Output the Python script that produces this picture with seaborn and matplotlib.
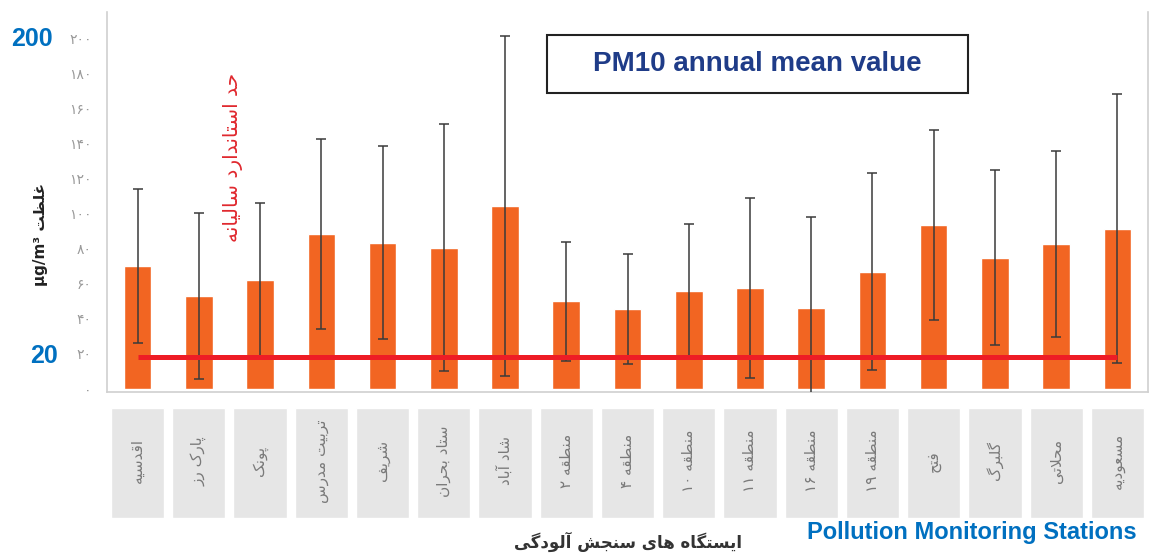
import matplotlib
matplotlib.use("Agg")
import matplotlib.pyplot as plt
from matplotlib.patches import Rectangle
import seaborn as sns
import pandas as pd

# station names (logical Persian order)
stations = ["اقدسیه", "پارک رز", "پونک", "تربیت مدرس", "شریف", "ستاد بحران", "شاد آباد",
            "منطقه ۲", "منطقه ۴", "منطقه ۱۰", "منطقه ۱۱", "منطقه ۱۶", "منطقه ۱۹",
            "فتح", "گلبرگ", "محلاتی", "مسعودیه"]
means = [70, 53, 62, 88.5, 83.5, 80.5, 104.5, 50, 45.5, 56, 57.5, 46, 67, 93.5, 75, 82.5, 91.5]
sds = [44, 47.5, 44, 54, 55, 70.5, 97, 34, 31.5, 38, 51.5, 52, 56, 54, 50, 53, 76.5]
standard = 18
ytick_vals = [0, 20, 40, 60, 80, 100, 120, 140, 160, 180, 200]
ytick_text = ["۰", "۲۰", "۴۰", "۶۰", "۸۰", "۱۰۰", "۱۲۰", "۱۴۰", "۱۶۰", "۱۸۰", "۲۰۰"]

# minimal Persian shaping, matplotlib does no joining / bidi by itself
FORMS = {
    'ا': ('\uFE8D', '\uFE8E'), 'آ': ('\uFE81', '\uFE82'), 'د': ('\uFEA9', '\uFEAA'),
    'ر': ('\uFEAD', '\uFEAE'), 'ز': ('\uFEAF', '\uFEB0'), 'و': ('\uFEED', '\uFEEE'),
    'ب': ('\uFE8F', '\uFE90', '\uFE91', '\uFE92'), 'پ': ('\uFB56', '\uFB57', '\uFB58', '\uFB59'),
    'ت': ('\uFE95', '\uFE96', '\uFE97', '\uFE98'), 'ج': ('\uFE9D', '\uFE9E', '\uFE9F', '\uFEA0'),
    'ح': ('\uFEA1', '\uFEA2', '\uFEA3', '\uFEA4'), 'س': ('\uFEB1', '\uFEB2', '\uFEB3', '\uFEB4'),
    'ش': ('\uFEB5', '\uFEB6', '\uFEB7', '\uFEB8'), 'ط': ('\uFEC1', '\uFEC2', '\uFEC3', '\uFEC4'),
    'ظ': ('\uFEC5', '\uFEC6', '\uFEC7', '\uFEC8'), 'ع': ('\uFEC9', '\uFECA', '\uFECB', '\uFECC'),
    'غ': ('\uFECD', '\uFECE', '\uFECF', '\uFED0'), 'ف': ('\uFED1', '\uFED2', '\uFED3', '\uFED4'),
    'ق': ('\uFED5', '\uFED6', '\uFED7', '\uFED8'), 'ک': ('\uFB8E', '\uFB8F', '\uFB90', '\uFB91'),
    'گ': ('\uFB92', '\uFB93', '\uFB94', '\uFB95'), 'ل': ('\uFEDD', '\uFEDE', '\uFEDF', '\uFEE0'),
    'م': ('\uFEE1', '\uFEE2', '\uFEE3', '\uFEE4'), 'ن': ('\uFEE5', '\uFEE6', '\uFEE7', '\uFEE8'),
    'ه': ('\uFEE9', '\uFEEA', '\uFEEB', '\uFEEC'), 'ی': ('\uFBFC', '\uFBFD', '\uFBFE', '\uFBFF'),
}


def shape_word(w):
    out = []
    i = 0
    while i < len(w):
        c = w[i]
        link_prev = i > 0 and len(FORMS.get(w[i - 1], ())) == 4
        if c == 'ل' and i + 1 < len(w) and w[i + 1] == 'ا':
            out.append('\uFEFC' if link_prev else '\uFEFB')
            i += 2
            continue
        if c not in FORMS:
            out.append(c)
            i += 1
            continue
        f = FORMS[c]
        link_next = len(f) == 4 and i + 1 < len(w) and w[i + 1] in FORMS
        if link_prev and link_next:
            out.append(f[3])
        elif link_prev:
            out.append(f[1])
        elif link_next:
            out.append(f[2])
        else:
            out.append(f[0])
        i += 1
    return ''.join(reversed(out))


def fa(text):
    words = text.split(' ')
    return ' '.join(shape_word(w) if any(c in FORMS for c in w) else w for w in reversed(words))


sns.set_style("white")
plt.rcParams['font.family'] = ['DejaVu Sans']

W, H = 1150, 554
fig = plt.figure(figsize=(W / 100, H / 100), dpi=100)
ax = fig.add_axes([107 / W, 1 - 392 / H, 1041 / W, 380 / H])

df = pd.DataFrame({"station": stations, "mean": means, "sd": sds})
sns.barplot(data=df, x="station", y="mean", order=stations, color="#F26522",
            saturation=1, width=0.45, errorbar=None, ax=ax)
ax.errorbar(range(len(stations)), df["mean"], yerr=df["sd"], fmt="none",
            ecolor="#3a3a3a", elinewidth=1.1, capsize=3.8, capthick=1.1, zorder=4)
ax.hlines(standard, 0, len(stations) - 1, color="#EE1C25", lw=3.6, zorder=5)

ax.set_xlim(-0.5, len(stations) - 0.5)
ax.set_ylim(-1.7, 215)
ax.set_xticks([])
ax.set_xlabel("")
ax.set_ylabel("")
ax.set_yticks(ytick_vals)
ax.set_yticklabels(ytick_text, color="#9a9a9a", fontsize=10)
ax.tick_params(axis="y", length=0, pad=11)
ax.spines["top"].set_visible(False)
for s in ["left", "bottom", "right"]:
    ax.spines[s].set_color("#d0d0d0")
    ax.spines[s].set_linewidth(1.2)

# gray label boxes under each station
ax2 = fig.add_axes([107 / W, 1 - 518 / H, 1041 / W, 110 / H])
ax2.bar(range(len(stations)), [1] * len(stations), width=0.87, color="#e6e6e6")
ax2.set_xlim(-0.5, len(stations) - 0.5)
ax2.set_ylim(0, 1)
ax2.axis("off")
for i, name in enumerate(stations):
    ax2.text(i, 0.52, fa(name), rotation=90, ha="center", va="center",
             fontsize=11, color="#7a7a7a")

# annotations
fig.text(40 / W, 1 - 234 / H, fa("غلظت µg/m³"), rotation=90, ha="center", va="center",
         fontsize=11, fontweight="bold", color="#222222")
fig.text(233 / W, 1 - 157 / H, fa("حد استاندارد سالیانه"), rotation=90, ha="center",
         va="center", fontsize=14.5, color="#E0282E")
fig.text(628 / W, 1 - 542 / H, fa("ایستگاه های سنجش آلودگی"), ha="center", va="center",
         fontsize=12, fontweight="bold", color="#333333")

fig.text(53 / W, 1 - 39 / H, "200", ha="right", va="center", fontsize=18,
         fontweight="bold", color="#0070C0", family="Liberation Sans")
fig.text(58 / W, 1 - 356 / H, "20", ha="right", va="center", fontsize=18,
         fontweight="bold", color="#0070C0", family="Liberation Sans")
fig.text(1137 / W, 1 - 533 / H, "Pollution Monitoring Stations", ha="right", va="center",
         fontsize=17, fontweight="bold", color="#0070C0", family="Liberation Sans")

fig.patches.append(Rectangle((547 / W, 1 - 93 / H), 421 / W, 58 / H, transform=fig.transFigure,
                             facecolor="white", edgecolor="#222222", lw=1.5, zorder=6))
fig.text(757 / W, 1 - 64 / H, "PM10 annual mean value", ha="center", va="center",
         fontsize=20, fontweight="bold", color="#1F3C88", family="Liberation Sans", zorder=7)

fig.savefig("out.png", dpi=100)
